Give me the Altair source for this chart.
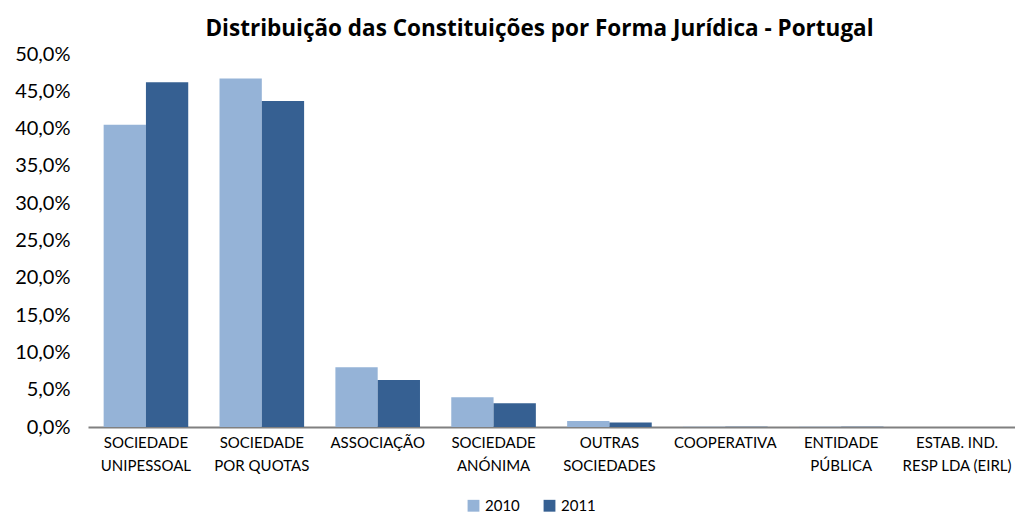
import altair as alt
import pandas as pd

categories = ["SOCIEDADE\nUNIPESSOAL", "SOCIEDADE\nPOR QUOTAS", "ASSOCIAÇÃO", "SOCIEDADE\nANÓNIMA",
              "OUTRAS\nSOCIEDADES", "COOPERATIVA", "ENTIDADE\nPÚBLICA", "ESTAB. IND.\nRESP LDA (EIRL)"]
v2010 = [40.5, 46.7, 8.0, 4.0, 0.8, 0.05, 0.02, 0.01]
v2011 = [46.2, 43.7, 6.3, 3.2, 0.6, 0.04, 0.02, 0.01]
years = ["2010", "2011"]
colors = ["#95B3D7", "#366092"]

rows = []
for c, a, b in zip(categories, v2010, v2011):
    rows.append({"cat": c, "ano": "2010", "valor": a})
    rows.append({"cat": c, "ano": "2011", "valor": b})
df = pd.DataFrame(rows)

FONT = "Lato"

chart = alt.Chart(df).mark_bar().encode(
    x=alt.X("cat:N", sort=categories, title=None,
            scale=alt.Scale(paddingInner=0.27, paddingOuter=0.135),
            axis=alt.Axis(labelAngle=0, labelExpr="split(datum.label, '\\n')",
                          labelFontSize=15, labelColor="#000000", labelFont=FONT,
                          ticks=False, domainColor="#808080", domainWidth=2,
                          labelPadding=8, labelLineHeight=23)),
    xOffset=alt.XOffset("ano:N", sort=years),
    y=alt.Y("valor:Q", title=None,
            scale=alt.Scale(domain=[0, 50], nice=False),
            axis=alt.Axis(values=[0, 5, 10, 15, 20, 25, 30, 35, 40, 45, 50],
                          labelExpr="replace(format(datum.value, '.1f'), '.', ',') + '%'",
                          labelFontSize=20, labelColor="#000000", labelFont=FONT,
                          grid=False, domain=False, ticks=False, labelPadding=18)),
    color=alt.Color("ano:N", sort=years, scale=alt.Scale(domain=years, range=colors),
                    legend=alt.Legend(title=None, orient="none", direction="horizontal",
                                      legendX=378, legendY=444,
                                      symbolType="square", symbolSize=140,
                                      labelFontSize=15, labelFont=FONT, labelColor="#000000",
                                      columnPadding=22)),
).properties(
    width=927, height=373,
    title=alt.Title("Distribuição das Constituições por Forma Jurídica - Portugal",
                    fontSize=22.5, font="Open Sans", fontWeight="bold", color="#000000",
                    anchor="middle", offset=4, dx=-12),
    padding={"left": 6, "top": 9, "right": 0, "bottom": 0},
).configure_view(stroke=None)

chart.save("out.html", embed_options={"renderer": "svg", "actions": False})
